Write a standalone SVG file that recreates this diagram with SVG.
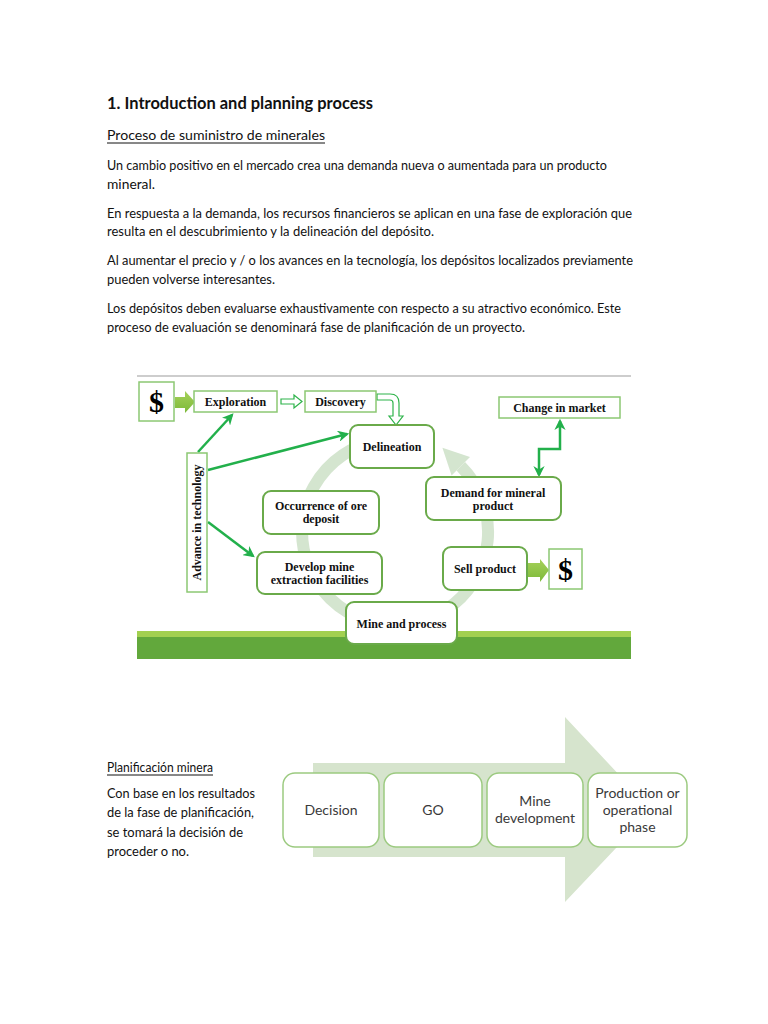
<svg xmlns="http://www.w3.org/2000/svg" width="768" height="1024" viewBox="0 0 768 1024">
<style>
.p{font-family:Lato,"Open Sans","Liberation Sans",sans-serif;font-size:14px;fill:#111}
.t{font-family:"Liberation Serif","DejaVu Serif",serif;font-weight:bold;font-size:12px;fill:#111;text-anchor:middle}
.rb{fill:#fff;stroke:#6aaa4a;stroke-width:2}
.sb{fill:#fff;stroke:#8cc873;stroke-width:1.5}
.ar{fill:none;stroke:#22b04b;stroke-width:2.5}
.bx{fill:#fff;stroke:#9cca80;stroke-width:1.5}
.bt{font-family:Lato,"Open Sans","Liberation Sans",sans-serif;font-size:14px;fill:#3a3a3a;text-anchor:middle}
.dl{font-family:"Liberation Serif","DejaVu Serif",serif;font-weight:bold;font-size:30px;fill:#000;text-anchor:middle}
</style>
<defs>
<marker id="ah" viewBox="0 0 10 10" refX="8" refY="5" markerWidth="4.5" markerHeight="4.5" orient="auto-start-reverse" markerUnits="strokeWidth">
<path d="M0,0 L10,5 L0,10 L3,5 Z" fill="#22b04b"/>
</marker>
<linearGradient id="ga" x1="0" y1="0" x2="0" y2="1">
<stop offset="0" stop-color="#a6d15a"/><stop offset="1" stop-color="#7cb939"/>
</linearGradient>
</defs>
<rect width="768" height="1024" fill="#fff"/>

<g id="intro-text">
<text x="107" y="109" class="p" style="font-weight:bold;font-size:17px" textLength="266" lengthAdjust="spacingAndGlyphs">1. Introduction and planning process</text>
<text x="107" y="140" class="p" textLength="218" lengthAdjust="spacingAndGlyphs">Proceso de suministro de minerales</text>
<line x1="107" y1="143" x2="325" y2="143" stroke="#111" stroke-width="1"/>
<text x="107" y="170" class="p" textLength="500" lengthAdjust="spacingAndGlyphs">Un cambio positivo en el mercado crea una demanda nueva o aumentada para un producto</text>
<text x="107" y="189" class="p" textLength="48" lengthAdjust="spacingAndGlyphs">mineral.</text>
<text x="107" y="218" class="p" textLength="525" lengthAdjust="spacingAndGlyphs">En respuesta a la demanda, los recursos financieros se aplican en una fase de exploración que</text>
<text x="107" y="236" class="p" textLength="327" lengthAdjust="spacingAndGlyphs">resulta en el descubrimiento y la delineación del depósito.</text>
<text x="107" y="265" class="p" textLength="526" lengthAdjust="spacingAndGlyphs">Al aumentar el precio y / o los avances en la tecnología, los depósitos localizados previamente</text>
<text x="107" y="284" class="p" textLength="168" lengthAdjust="spacingAndGlyphs">pueden volverse interesantes.</text>
<text x="107" y="313" class="p" textLength="514" lengthAdjust="spacingAndGlyphs">Los depósitos deben evaluarse exhaustivamente con respecto a su atractivo económico. Este</text>
<text x="107" y="332" class="p" textLength="418" lengthAdjust="spacingAndGlyphs">proceso de evaluación se denominará fase de planificación de un proyecto.</text>
</g>

<g id="diagram-frame">
<line x1="137" y1="376" x2="631" y2="376" stroke="#bdbdbd" stroke-width="1.5"/>
<rect x="137" y="631" width="494" height="7" fill="#a2d050"/>
<rect x="137" y="637" width="494" height="22" fill="#62a83c"/>
<path d="M378.9,440.4 A93,93 0 1 0 460.8,466.2" fill="none" stroke="#d4e5cf" stroke-width="12"/>
<polygon points="442.4,447.8 470,457 451.6,475.4" fill="#d4e5cf"/>
</g>

<g id="connectors">
<polygon points="175,397 185,397 185,391 195,402 185,413 185,408 175,408" fill="url(#ga)"/>
<polygon points="528,563 540,563 540,559 549,570 540,582 540,577 528,577" fill="url(#ga)"/>
<polygon points="281,399 294,399 294,395 302,401.5 294,408 294,404 281,404" fill="#fff" stroke="#2db34a" stroke-width="1.2"/>
<path d="M377,394 L390,394 Q399,394 399,403 L399,416 L403,416 L396,425 L389,416 L393,416 L393,403 Q393,400 390,400 L377,400 Z" fill="#fff" stroke="#2db34a" stroke-width="1.2"/>
<line x1="198" y1="452" x2="232" y2="415" class="ar" marker-end="url(#ah)"/>
<line x1="208" y1="470" x2="347" y2="434" class="ar" marker-end="url(#ah)"/>
<line x1="208" y1="522" x2="253" y2="556" class="ar" marker-end="url(#ah)"/>
<polyline points="539,475 539,449 560,449 560,421" class="ar" marker-start="url(#ah)" marker-end="url(#ah)"/>
</g>

<g id="dollar-left"><rect x="139" y="382" width="35" height="39" class="sb"/><text x="156.5" y="412" class="dl">$</text></g>
<g id="exploration"><rect x="194" y="391" width="83" height="21" class="sb"/><text x="235.5" y="406" class="t">Exploration</text></g>
<g id="discovery"><rect x="305" y="391" width="71" height="21" class="sb"/><text x="340.5" y="406" class="t">Discovery</text></g>
<g id="delineation"><rect x="350" y="425" width="84" height="43" rx="8" class="rb"/><text x="392" y="451" class="t">Delineation</text></g>
<g id="change-market"><rect x="499" y="397" width="121" height="21" class="sb"/><text x="559.5" y="412" class="t">Change in market</text></g>
<g id="demand"><rect x="426" y="477" width="135" height="43" rx="8" class="rb"/><text x="493" y="497" class="t">Demand for mineral</text><text x="493" y="510" class="t">product</text></g>
<g id="advance-tech"><rect x="187" y="453" width="20" height="139" class="sb"/><text transform="translate(201,522.5) rotate(-90)" x="0" y="0" class="t">Advance in technology</text></g>
<g id="occurrence"><rect x="263" y="491" width="116" height="43" rx="8" class="rb"/><text x="321" y="510" class="t">Occurrence of ore</text><text x="321" y="523" class="t">deposit</text></g>
<g id="develop"><rect x="257" y="552" width="125" height="42" rx="8" class="rb"/><text x="319.5" y="571" class="t">Develop mine</text><text x="319.5" y="584" class="t">extraction facilities</text></g>
<g id="sell"><rect x="443" y="547" width="84" height="43" rx="8" class="rb"/><text x="485" y="573" class="t">Sell product</text></g>
<g id="dollar-right"><rect x="549" y="549" width="33" height="40" class="sb"/><text x="565.5" y="580" class="dl">$</text></g>
<g id="mine-process"><rect x="346" y="602" width="111" height="42" rx="8" class="rb"/><text x="401.5" y="628" class="t">Mine and process</text></g>

<g id="planning-text">
<text x="107" y="772" class="p" textLength="106" lengthAdjust="spacingAndGlyphs">Planificación minera</text>
<line x1="107" y1="775" x2="213" y2="775" stroke="#111" stroke-width="1"/>
<text x="107" y="798" class="p" textLength="148" lengthAdjust="spacingAndGlyphs">Con base en los resultados</text>
<text x="107" y="817" class="p" textLength="147" lengthAdjust="spacingAndGlyphs">de la fase de planificación,</text>
<text x="107" y="837" class="p" textLength="136" lengthAdjust="spacingAndGlyphs">se tomará la decisión de</text>
<text x="107" y="856" class="p" textLength="82" lengthAdjust="spacingAndGlyphs">proceder o no.</text>
</g>

<g id="big-arrow"><polygon points="313,763 565,763 565,717 652,810 565,902 565,857 313,857" fill="#d6e4cd"/></g>
<g id="decision"><rect x="283" y="773" width="96" height="74" rx="12" class="bx"/><text x="331" y="815" class="bt">Decision</text></g>
<g id="go"><rect x="384" y="773" width="98" height="74" rx="12" class="bx"/><text x="433" y="815" class="bt">GO</text></g>
<g id="mine-development"><rect x="487" y="773" width="96" height="74" rx="12" class="bx"/><text x="535" y="806" class="bt">Mine</text><text x="535" y="823" class="bt">development</text></g>
<g id="production"><rect x="588" y="773" width="99" height="74" rx="12" class="bx"/><text x="637.5" y="798" class="bt">Production or</text><text x="637.5" y="815" class="bt">operational</text><text x="637.5" y="832" class="bt">phase</text></g>
</svg>
